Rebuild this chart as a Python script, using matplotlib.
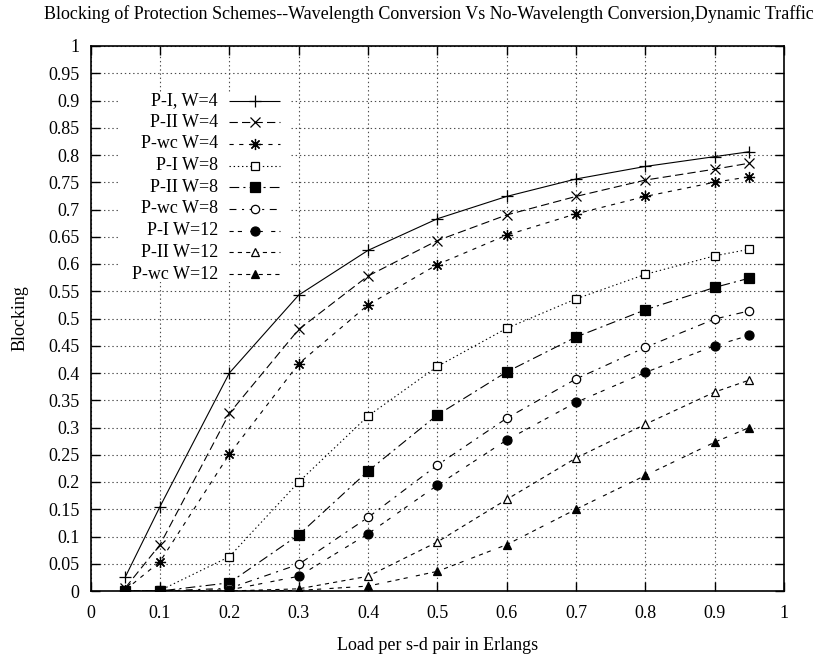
import matplotlib
matplotlib.use('Agg')
import matplotlib.pyplot as plt
from matplotlib.patches import Rectangle
from matplotlib.lines import Line2D

load = [0.05, 0.1, 0.2, 0.3, 0.4, 0.5, 0.6, 0.7, 0.8, 0.9, 0.95]

p1_w4 = [0.026, 0.155, 0.400, 0.543, 0.625, 0.683, 0.724, 0.756, 0.779, 0.797, 0.806]
p2_w4 = [0.006, 0.085, 0.326, 0.480, 0.578, 0.643, 0.690, 0.724, 0.754, 0.774, 0.785]
pwc_w4 = [0.002, 0.054, 0.251, 0.417, 0.525, 0.599, 0.653, 0.692, 0.724, 0.750, 0.760]
p1_w8 = [0.000, 0.001, 0.063, 0.200, 0.321, 0.412, 0.482, 0.536, 0.581, 0.615, 0.627]
p2_w8 = [0.000, 0.000, 0.015, 0.103, 0.220, 0.323, 0.402, 0.466, 0.516, 0.557, 0.574]
pwc_w8 = [0.000, 0.000, 0.005, 0.049, 0.135, 0.231, 0.317, 0.389, 0.447, 0.499, 0.514]
p1_w12 = [0.000, 0.000, 0.002, 0.027, 0.105, 0.194, 0.277, 0.346, 0.401, 0.450, 0.469]
p2_w12 = [0.000, 0.000, 0.000, 0.004, 0.027, 0.090, 0.168, 0.244, 0.306, 0.365, 0.387]
pwc_w12 = [0.000, 0.000, 0.000, 0.001, 0.009, 0.036, 0.085, 0.150, 0.212, 0.273, 0.300]

labels = ['P-I, W=4', 'P-II W=4', 'P-wc W=4', 'P-I W=8', 'P-II W=8',
          'P-wc W=8', 'P-I W=12', 'P-II W=12', 'P-wc W=12']
series = [p1_w4, p2_w4, pwc_w4, p1_w8, p2_w8, pwc_w8, p1_w12, p2_w12, pwc_w12]

# gnuplot-like line types and point types
dashes = [(0, ()), (0, (6, 3)), (0, (3, 4)), (0, (1, 2)), (0, (7, 3, 1.5, 3)),
          (0, (5, 4, 1.5, 4)), (0, (3, 3, 3, 6)), (0, (3, 3)), (0, (3, 3, 3, 3, 3, 6))]
markers = ['+', 'x', (8, 2, 0), 's', 's', 'o', 'o', '^', '^']
filled = [True, True, True, False, True, False, True, False, True]
msizes = [8, 7, 8, 6, 7, 6, 6.5, 6, 6]

plt.rcParams['font.family'] = ['Liberation Serif', 'DejaVu Serif']
plt.rcParams['lines.scale_dashes'] = False

fig = plt.figure(figsize=(8.33, 6.61), dpi=100)
ax = fig.add_axes([90.7 / 833, 1 - 591 / 661, 693.3 / 833, 545 / 661])

for i in range(len(series)):
    ax.plot(load, series[i], color='black', lw=0.8, linestyle=dashes[i],
            marker=markers[i], ms=msizes[i], mew=0.9,
            mfc='black' if filled[i] else 'white', mec='black', zorder=3)

ax.set_xlim(0, 1)
ax.set_ylim(0, 1)
ax.set_xticks([i / 10 for i in range(11)])
ax.set_xticklabels(['0', '0.1', '0.2', '0.3', '0.4', '0.5', '0.6', '0.7', '0.8', '0.9', '1'])
yt = [i / 20 for i in range(21)]
ax.set_yticks(yt)
ax.set_yticklabels(['0' if v == 0 else ('1' if v == 1 else ('%.2f' % v).rstrip('0')) for v in yt])
ax.tick_params(direction='in', length=6.5, width=1, top=True, right=True,
               labelsize=13, pad=8)
ax.tick_params(axis='x', pad=10)
ax.grid(True, color='0.3', lw=0.8, linestyle=(0, (1, 2)))
for s in ax.spines.values():
    s.set_linewidth(1.2)

# key, drawn by hand so the labels are right-aligned like gnuplot
ax.add_patch(Rectangle((0.042, 0.567), 0.246, 0.349, transform=ax.transAxes,
                       facecolor='white', edgecolor='none', zorder=2))
for i in range(len(series)):
    ky = 0.9 - i * 0.0398
    ax.text(0.1836, ky, labels[i], transform=ax.transAxes, ha='right', va='center',
            fontsize=13, zorder=4)
    ax.add_line(Line2D([0.1995, 0.273], [ky, ky], transform=ax.transAxes, color='black',
                       lw=0.8, linestyle=dashes[i], zorder=4))
    ax.add_line(Line2D([0.237], [ky], transform=ax.transAxes, color='black', lw=0,
                       marker=markers[i], ms=msizes[i], mew=0.9,
                       mfc='black' if filled[i] else 'white', mec='black', zorder=4))

fig.text(429 / 833, 1 - 14 / 661,
         'Blocking of Protection Schemes--Wavelength Conversion Vs No-Wavelength Conversion,Dynamic Traffic',
         ha='center', va='center', fontsize=13)
fig.text(438 / 833, 1 - 645 / 661, 'Load per s-d pair in Erlangs', ha='center', va='center', fontsize=13)
fig.text(20 / 833, 1 - 318 / 661, 'Blocking', ha='center', va='center', rotation=90, fontsize=13)

fig.savefig('out.png', dpi=100)
